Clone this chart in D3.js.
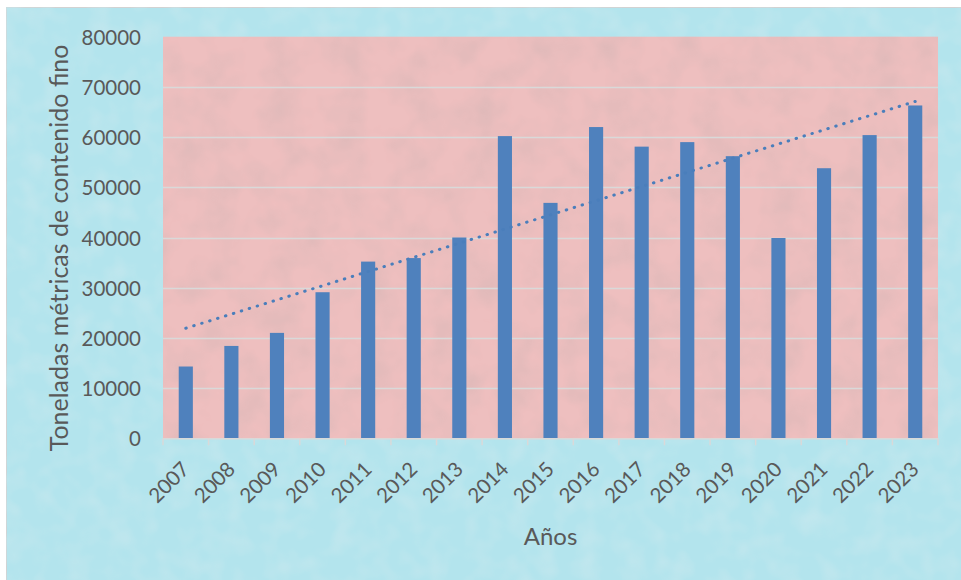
<!DOCTYPE html>
<html>
<head>
<meta charset="utf-8">
<script src="https://cdn.jsdelivr.net/npm/d3@7"></script>
<style>
html,body{margin:0;padding:0;background:#fff;}
svg{display:block;}
text{font-family:Lato,"Open Sans",sans-serif;fill:#595959;}
</style>
</head>
<body>
<svg id="chart" width="961" height="580"></svg>
<script>
const years = ["2007","2008","2009","2010","2011","2012","2013","2014","2015","2016","2017","2018","2019","2020","2021","2022","2023"];
const values = [14300,18400,21000,29100,35200,35900,40000,60200,46900,62000,58100,59000,56200,39900,53800,60400,66300];
const yTicks = [0,10000,20000,30000,40000,50000,60000,70000,80000];
const yTitle = "Toneladas métricas de contenido fino";
const xTitle = "Años";

const svg = d3.select("#chart");
const W = 961, H = 580;
const plot = {left:163, right:938, top:36.7, bottom:438.3};

const defs = svg.append("defs");
// subtle textures
const f1 = defs.append("filter").attr("id","texPink").attr("x",0).attr("y",0).attr("width","100%").attr("height","100%");
f1.append("feTurbulence").attr("type","fractalNoise").attr("baseFrequency","0.03").attr("numOctaves",3).attr("seed",4).attr("result","n");
f1.append("feColorMatrix").attr("in","n").attr("type","matrix")
  .attr("values","0 0 0 0 0.62  0 0 0 0 0.45  0 0 0 0 0.45  0 0 0 -0.9 0.55").attr("result","c");
f1.append("feComposite").attr("in","c").attr("in2","SourceGraphic").attr("operator","in").attr("result","cc");
f1.append("feMerge").call(m=>{m.append("feMergeNode").attr("in","SourceGraphic");m.append("feMergeNode").attr("in","cc");});

const f2 = defs.append("filter").attr("id","texBlue").attr("x",0).attr("y",0).attr("width","100%").attr("height","100%");
f2.append("feTurbulence").attr("type","fractalNoise").attr("baseFrequency","0.045").attr("numOctaves",2).attr("seed",9).attr("result","n");
f2.append("feColorMatrix").attr("in","n").attr("type","matrix")
  .attr("values","0 0 0 0 0.55  0 0 0 0 0.8  0 0 0 0 0.85  0 0 0 -1.6 0.95").attr("result","c");
f2.append("feComposite").attr("in","c").attr("in2","SourceGraphic").attr("operator","in").attr("result","cc");
f2.append("feMerge").call(m=>{m.append("feMergeNode").attr("in","SourceGraphic");m.append("feMergeNode").attr("in","cc");});

// chart background
svg.append("rect").attr("x",6.5).attr("y",7.5).attr("width",W-6).attr("height",H-7)
  .attr("fill","#b3e4ed").attr("stroke","#d2d2d2").attr("stroke-width",1).attr("filter","url(#texBlue)");

// plot area
svg.append("rect").attr("x",plot.left).attr("y",plot.top)
  .attr("width",plot.right-plot.left).attr("height",plot.bottom-plot.top)
  .attr("fill","#eebfbf").attr("filter","url(#texPink)");

const x = d3.scaleBand().domain(years).range([plot.left, plot.right]).paddingInner(0).paddingOuter(0);
const y = d3.scaleLinear().domain([0,80000]).range([plot.bottom, plot.top]);
const step = x.step();
const bw = step*0.31;

// gridlines
svg.append("g").selectAll("line").data(yTicks.filter(d=>d>0 && d<80000)).join("line")
  .attr("x1",plot.left).attr("x2",plot.right)
  .attr("y1",d=>Math.round(y(d))+0.5).attr("y2",d=>Math.round(y(d))+0.5)
  .attr("stroke","#d9d9d9").attr("stroke-width",1.5);

// bars
svg.append("g").selectAll("rect").data(values).join("rect")
  .attr("x",(d,i)=>x(years[i])+(step-bw)/2)
  .attr("y",d=>y(d))
  .attr("width",bw)
  .attr("height",d=>plot.bottom-y(d))
  .attr("fill","#4f81bd");

// linear trendline (least squares)
const n = values.length;
const xs = d3.range(n);
const mx = d3.mean(xs), my = d3.mean(values);
const slope = d3.sum(xs,(xi,i)=>(xi-mx)*(values[i]-my))/d3.sum(xs,xi=>(xi-mx)*(xi-mx));
const icpt = my - slope*mx;
const trend = [0,n-1].map(i=>({yr:years[i], v:icpt+slope*i}));
svg.append("path").datum(trend)
  .attr("d",d3.line().x(d=>x(d.yr)+step/2).y(d=>y(d.v)))
  .attr("fill","none").attr("stroke","#4a7ebb").attr("stroke-width",3)
  .attr("stroke-linecap","round").attr("stroke-dasharray","0.5 7.8");

// x axis line and ticks
const axisG = svg.append("g");
axisG.append("line").attr("x1",plot.left).attr("x2",plot.right)
  .attr("y1",plot.bottom+0.5).attr("y2",plot.bottom+0.5).attr("stroke","#d9d9d9").attr("stroke-width",1.5);
axisG.selectAll("line.tk").data(d3.range(n+1)).join("line").attr("class","tk")
  .attr("x1",i=>plot.left+i*step).attr("x2",i=>plot.left+i*step)
  .attr("y1",plot.bottom).attr("y2",plot.bottom+7)
  .attr("stroke","#d9d9d9").attr("stroke-width",1.5);

// x labels
axisG.selectAll("text").data(years).join("text")
  .attr("transform",d=>`translate(${x(d)+step/2-17.5},${plot.bottom+43.5}) rotate(-45)`)
  .attr("text-anchor","middle").attr("dominant-baseline","central")
  .attr("font-size",20.5).text(d=>d);

// y labels
svg.append("g").selectAll("text").data(yTicks).join("text")
  .attr("x",141).attr("y",d=>y(d)).attr("text-anchor","end").attr("dominant-baseline","central")
  .attr("font-size",20.5).text(d=>d);

// titles
svg.append("text").attr("transform",`translate(58,248) rotate(-90)`)
  .attr("text-anchor","middle").attr("dominant-baseline","central")
  .attr("font-size",25).text(yTitle);
svg.append("text").attr("x",(plot.left+plot.right)/2).attr("y",535)
  .attr("text-anchor","middle").attr("dominant-baseline","central")
  .attr("font-size",24).text(xTitle);
</script>
</body>
</html>
